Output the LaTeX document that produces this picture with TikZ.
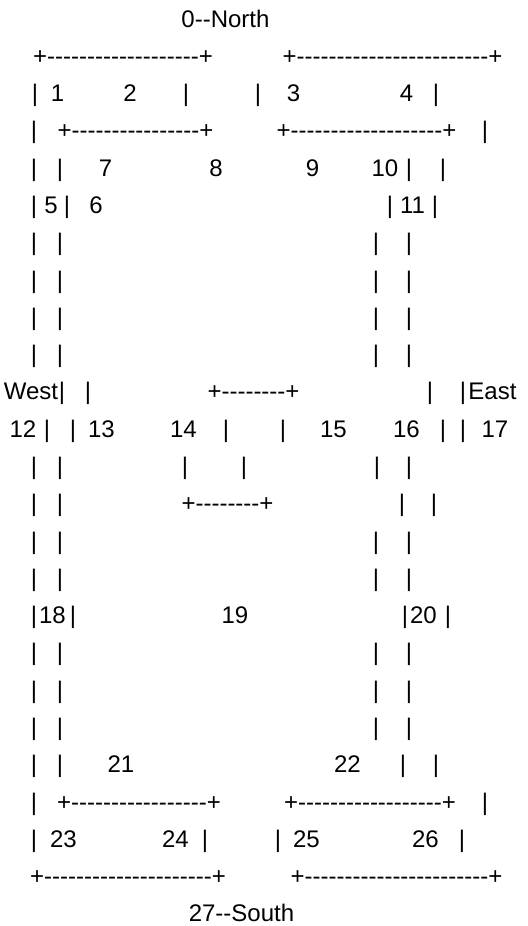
\documentclass[tikz,border=0pt]{standalone}
\usepackage{fontspec}
\newfontfamily\asc{Liberation Sans}[Ligatures=TeXOff]
\newcommand\dl[1]{+\foreach\j in {1,...,#1}{-}+}
\tikzset{tok/.style={inner sep=0pt, outer sep=0pt, anchor=base, text=black,
  font=\asc\fontsize{18}{18}\selectfont}}
\newcommand\R[2]{\foreach \x/\t [count=\i] in {#2}
  \node[tok] (r#1-\i) at (\x,{27+(#1-1)*37.29}) {\t};}
\begin{document}
\begin{tikzpicture}[x=0.75pt,y=-0.75pt]
\useasboundingbox[fill=white] (0,0) rectangle (528,926);
\R{1}{225.5/0--North}
\R{2}{123/\dl{19}, 392.5/\dl{24}}
\R{3}{35/|, 57.5/1, 130/2, 186/|, 258/|, 293.5/3, 406.5/4, 436/|}
\R{4}{34/|, 135.5/\dl{16}, 366.5/\dl{19}, 485/|}
\R{5}{34/|, 60/|, 105.5/7, 216/8, 312.5/9, 385/10, 409/|, 443/|}
\R{6}{34/|, 51/5, 67/|, 96/6, 390/|, 412.5/11, 435/|}
\R{7}{34/|, 60/|, 376/|, 409/|}
\R{8}{34/|, 60/|, 376/|, 409/|}
\R{9}{34/|, 60/|, 376/|, 409/|}
\R{10}{34/|, 60/|, 376/|, 409/|}
\R{11}{31/West, 62/|, 88/|, 253.5/\dl{8}, 430/|, 463/|, 492.5/East}
\R{12}{23/12, 47/|, 73/|, 101.5/13, 183.5/14, 226/|, 283/|, 333.5/15, 406.5/16, 443/|, 463/|, 495/17}
\R{13}{34/|, 60/|, 185/|, 244/|, 377/|, 409/|}
\R{14}{34/|, 60/|, 227.5/\dl{8}, 402/|, 434/|}
\R{15}{34/|, 60/|, 376/|, 409/|}
\R{16}{34/|, 60/|, 376/|, 409/|}
\R{17}{34/|, 52.5/18, 73/|, 235/19, 405/|, 423.5/20, 448/|}
\R{18}{34/|, 60/|, 376/|, 409/|}
\R{19}{34/|, 60/|, 376/|, 409/|}
\R{20}{34/|, 60/|, 376/|, 409/|}
\R{21}{34/|, 60/|, 121/21, 347.5/22, 403/|, 436/|}
\R{22}{34/|, 139/\dl{17}, 370/\dl{18}, 485/|}
\R{23}{34/|, 63.5/23, 175.5/24, 205/|, 278/|, 306.5/25, 425.5/26, 462/|}
\R{24}{128/\dl{21}, 396.5/\dl{23}}
\R{25}{241.5/27--South}
\end{tikzpicture}
\end{document}
